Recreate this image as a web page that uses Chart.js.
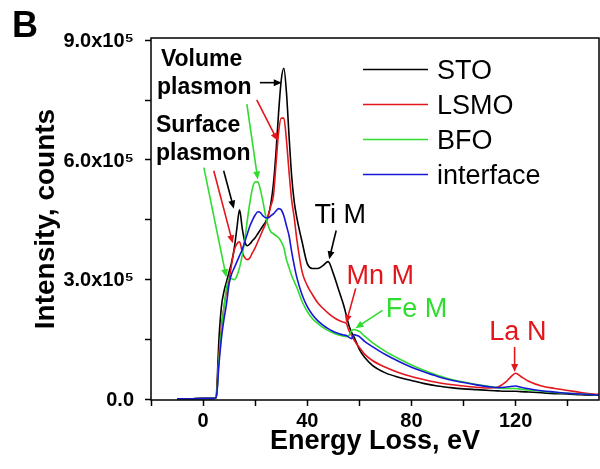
<!DOCTYPE html>
<html>
<head>
    <title>EELS spectra</title>
    <script src="https://cdn.jsdelivr.net/npm/chart.js"></script>
    <style>
        body { margin: 0; background: #fff; }
        #chart { display: block; }
    </style>
</head>
<body>
    <canvas id="chart" width="600" height="469"></canvas>
    <script>
        // energy loss (eV) shared by all spectra
        const energy = [-10, -5, 0, 4, 5, 5.5, 6, 7, 8, 9, 10, 11, 12, 13, 14, 15, 16, 17, 18, 19,
                        20, 21, 22, 23, 24, 25, 26, 27, 28, 29, 30, 31, 32, 33, 34, 35, 36, 38, 40, 42,
                        44, 46, 48, 50, 52, 54, 55, 56, 57, 58, 59, 60, 62, 65, 70, 75, 80, 85, 90, 95,
                        100, 105, 110, 113, 116, 118, 120, 122, 125, 130, 135, 140, 145, 150, 152];

        // intensities in units of 10^5 counts
        const sto = [0.01, 0.01, 0.02, 0.02, 0.05, 0.6, 1.4, 2.3, 2.7, 2.95, 3.2, 3.45, 3.8, 4.3, 4.75, 4.3, 3.95, 3.85, 3.9, 3.98,
                     4.05, 4.15, 4.25, 4.35, 4.45, 4.6, 4.9, 5.4, 6.2, 7.2, 8.0, 8.3, 7.7, 6.6, 5.6, 4.95, 4.55, 3.95, 3.4, 3.28,
                     3.28, 3.35, 3.45, 3.15, 2.75, 2.35, 2.1, 1.85, 1.68, 1.55, 1.4, 1.25, 1.05, 0.85, 0.66, 0.55, 0.47, 0.39, 0.33, 0.29,
                     0.26, 0.24, 0.22, 0.21, 0.2, 0.2, 0.2, 0.19, 0.18, 0.16, 0.14, 0.13, 0.11, 0.1, 0.1];
        const lsmo = [0.01, 0.01, 0.02, 0.02, 0.04, 0.4, 1.0, 1.8, 2.3, 2.7, 3.0, 3.4, 3.75, 3.9, 3.95, 3.7, 3.55, 3.5, 3.55, 3.68,
                      3.8, 3.95, 4.1, 4.25, 4.4, 4.6, 4.85, 5.1, 5.9, 6.7, 7.05, 7.05, 6.5, 5.7, 5.0, 4.55, 4.0, 3.2, 2.85, 2.62,
                      2.42, 2.28, 2.16, 2.06, 1.98, 1.93, 1.9, 1.72, 1.6, 1.48, 1.38, 1.3, 1.13, 0.97, 0.8, 0.67, 0.57, 0.49, 0.42, 0.37,
                      0.33, 0.3, 0.28, 0.3, 0.42, 0.55, 0.65, 0.57, 0.45, 0.33, 0.27, 0.22, 0.17, 0.13, 0.12];
        const bfo = [0.01, 0.01, 0.02, 0.02, 0.04, 0.35, 0.9, 1.7, 2.3, 2.8, 3.02, 3.02, 3.0, 3.1, 3.3, 3.6, 4.0, 4.5, 4.95, 5.3,
                     5.45, 5.45, 5.25, 4.95, 4.6, 4.35, 4.2, 4.15, 4.1, 4.05, 3.95, 3.8, 3.5, 3.3, 3.1, 2.95, 2.8, 2.45, 2.2, 2.02,
                     1.9, 1.8, 1.72, 1.66, 1.61, 1.58, 1.57, 1.6, 1.72, 1.75, 1.73, 1.7, 1.58, 1.42, 1.2, 1.02, 0.86, 0.72, 0.6, 0.5,
                     0.43, 0.37, 0.32, 0.29, 0.27, 0.27, 0.27, 0.25, 0.23, 0.2, 0.17, 0.15, 0.13, 0.11, 0.1];
        const iface = [0.01, 0.01, 0.02, 0.02, 0.04, 0.3, 0.8, 1.5, 2.0, 2.4, 2.9, 3.15, 3.3, 3.45, 3.6, 3.75, 3.95, 4.15, 4.35, 4.5,
                       4.62, 4.7, 4.68, 4.6, 4.55, 4.55, 4.6, 4.65, 4.72, 4.78, 4.75, 4.6, 4.35, 4.1, 3.7, 3.35, 3.05, 2.62, 2.32, 2.12,
                       1.97, 1.86, 1.77, 1.7, 1.65, 1.61, 1.6, 1.55, 1.52, 1.62, 1.6, 1.57, 1.45, 1.32, 1.12, 0.95, 0.8, 0.68, 0.57, 0.48,
                       0.42, 0.36, 0.31, 0.29, 0.3, 0.32, 0.33, 0.3, 0.26, 0.21, 0.18, 0.15, 0.13, 0.11, 0.1];

        const seriesNames = ['STO', 'LSMO', 'BFO', 'interface'];
        const seriesColors = ['#000000', '#e3161c', '#2fdc2f', '#1717d6'];
        const xTickValues = [0, 40, 80, 120];
        const yTickValues = [0, 3, 6, 9];

        // annotation texts and arrows, placed in data units
        const noteTexts = [
            { text: 'Volume', x: -16.2, y: 8.36, color: '#000', font: 'bold 23px "Liberation Sans"' },
            { text: 'plasmon', x: -17.7, y: 7.66, color: '#000', font: 'bold 23px "Liberation Sans"' },
            { text: 'Surface', x: -18.1, y: 6.71, color: '#000', font: 'bold 23px "Liberation Sans"' },
            { text: 'plasmon', x: -18.1, y: 6.01, color: '#000', font: 'bold 23px "Liberation Sans"' },
            { text: 'Ti M', x: 42.8, y: 4.41, color: '#000', font: '27px "Liberation Sans"' },
            { text: 'Mn M', x: 55.1, y: 2.88, color: '#e3161c', font: '27px "Liberation Sans"' },
            { text: 'Fe M', x: 70.1, y: 2.06, color: '#2fdc2f', font: '27px "Liberation Sans"' },
            { text: 'La N', x: 109.9, y: 1.48, color: '#e3161c', font: '27px "Liberation Sans"' }
        ];
        const noteArrows = [
            { from: [21.8, 7.94], to: [30.2, 7.94], color: '#000' },
            { from: [16.8, 7.40], to: [21.0, 5.51], color: '#2fdc2f' },
            { from: [20.6, 7.51], to: [28.6, 6.48], color: '#e3161c' },
            { from: [0.3, 5.81], to: [8.9, 3.06], color: '#2fdc2f' },
            { from: [4.1, 5.73], to: [11.4, 3.91], color: '#e3161c' },
            { from: [7.9, 5.73], to: [11.8, 4.78], color: '#000' },
            { from: [51.1, 4.23], to: [48.4, 3.51], color: '#000' },
            { from: [58.6, 2.78], to: [54.9, 1.91], color: '#e3161c' },
            { from: [68.9, 2.23], to: [58.5, 1.78], color: '#2fdc2f' },
            { from: [119.6, 1.31], to: [119.6, 0.68], color: '#e3161c' }
        ];

        const allSeries = [sto, lsmo, bfo, iface];

        Chart.defaults.font.family = '"Liberation Sans", Arial, sans-serif';
        Chart.defaults.color = '#000';

        function drawArrow(ctx, x1, y1, x2, y2, color) {
            const ang = Math.atan2(y2 - y1, x2 - x1);
            const head = 8, half = 3.5;
            ctx.strokeStyle = color;
            ctx.fillStyle = color;
            ctx.lineWidth = 1.6;
            ctx.beginPath();
            ctx.moveTo(x1, y1);
            ctx.lineTo(x2 - Math.cos(ang) * head * 0.8, y2 - Math.sin(ang) * head * 0.8);
            ctx.stroke();
            ctx.beginPath();
            ctx.moveTo(x2, y2);
            ctx.lineTo(x2 - Math.cos(ang) * head - Math.sin(ang) * half, y2 - Math.sin(ang) * head + Math.cos(ang) * half);
            ctx.lineTo(x2 - Math.cos(ang) * head + Math.sin(ang) * half, y2 - Math.sin(ang) * head - Math.cos(ang) * half);
            ctx.closePath();
            ctx.fill();
        }

        const extrasPlugin = {
            id: 'extras',
            afterDraw(chart) {
                const { ctx, chartArea: a, scales: { x, y } } = chart;
                ctx.save();

                // frame
                ctx.strokeStyle = '#000';
                ctx.lineWidth = 1.5;
                ctx.strokeRect(a.left, a.top, a.right - a.left, a.bottom - a.top);

                // legend inside the plot
                ctx.font = '27px "Liberation Sans"';
                ctx.textBaseline = 'alphabetic';
                chart.data.datasets.forEach((ds, i) => {
                    const rowY = a.top + 31.5 + i * 35;
                    ctx.strokeStyle = ds.borderColor;
                    ctx.lineWidth = 1.6;
                    ctx.beginPath();
                    ctx.moveTo(a.right - 236, rowY);
                    ctx.lineTo(a.right - 171, rowY);
                    ctx.stroke();
                    ctx.fillStyle = '#000';
                    ctx.fillText(ds.label, a.right - 162, rowY + 9.5);
                });

                // annotations
                noteTexts.forEach(n => {
                    ctx.font = n.font;
                    ctx.fillStyle = n.color;
                    ctx.fillText(n.text, x.getPixelForValue(n.x), y.getPixelForValue(n.y));
                });
                noteArrows.forEach(r => {
                    drawArrow(ctx,
                        x.getPixelForValue(r.from[0]), y.getPixelForValue(r.from[1]),
                        x.getPixelForValue(r.to[0]), y.getPixelForValue(r.to[1]), r.color);
                });

                // panel letter
                ctx.font = 'bold 36px "Liberation Sans"';
                ctx.fillStyle = '#000';
                ctx.fillText('B', 12, 37);
                ctx.restore();
            }
        };

        new Chart(document.getElementById('chart'), {
            type: 'line',
            data: {
                datasets: allSeries.map((s, i) => ({
                    label: seriesNames[i],
                    data: energy.map((e, k) => ({ x: e, y: s[k] })),
                    borderColor: seriesColors[i],
                    borderWidth: 1.6,
                    pointRadius: 0,
                    cubicInterpolationMode: 'monotone',
                    fill: false,
                    order: 4 - i
                }))
            },
            options: {
                responsive: false,
                animation: false,
                layout: { padding: { left: 0, right: 1, top: 38, bottom: 0 } },
                plugins: { legend: { display: false }, tooltip: { enabled: false } },
                scales: {
                    x: {
                        type: 'linear',
                        min: -20,
                        max: 152,
                        afterFit: s => { s.height = 69; },
                        border: { display: false },
                        grid: { drawOnChartArea: false, tickLength: 6, tickColor: '#000', tickWidth: 1.5 },
                        ticks: {
                            stepSize: 20,
                            includeBounds: false,
                            autoSkip: false,
                            maxRotation: 0,
                            padding: 3,
                            font: { size: 20, weight: 'bold' },
                            callback: v => xTickValues.includes(v) ? String(v) : ''
                        },
                        title: {
                            display: true,
                            text: 'Energy Loss, eV',
                            font: { size: 27, weight: 'bold' },
                            padding: { top: 0, bottom: 11 }
                        }
                    },
                    y: {
                        min: -0.02,
                        max: 9.06,
                        afterFit: s => { s.width = 151; },
                        border: { display: false },
                        grid: { drawOnChartArea: false, tickLength: 6, tickColor: '#000', tickWidth: 1.5 },
                        ticks: {
                            stepSize: 1.5,
                            includeBounds: false,
                            autoSkip: false,
                            padding: 11,
                            labelOffset: 1,
                            font: { size: 20, weight: 'bold' },
                            callback: v => {
                                const hit = yTickValues.find(t => Math.abs(t - v) < 1e-6);
                                if (hit === undefined) return '';
                                return hit === 0 ? '0.0' : hit.toFixed(1) + 'x10\u2075';
                            }
                        },
                        title: {
                            display: true,
                            text: 'Intensity, counts',
                            font: { size: 28, weight: 'bold' },
                            padding: { top: 29, bottom: 0 }
                        }
                    }
                }
            },
            plugins: [extrasPlugin]
        });
    </script>
</body>
</html>
